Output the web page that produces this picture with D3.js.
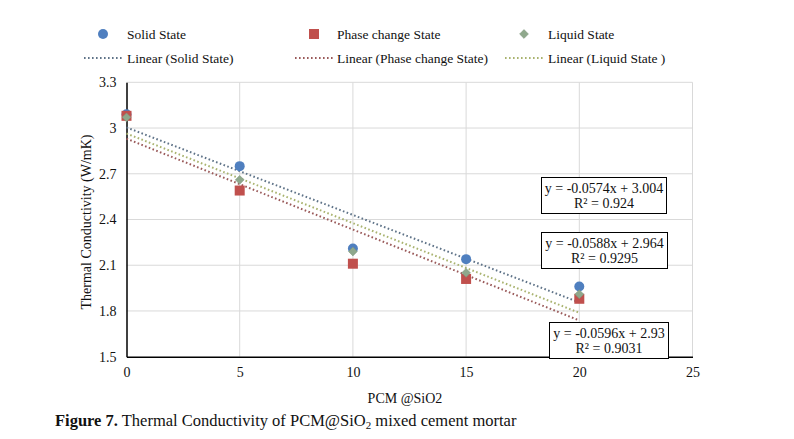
<!DOCTYPE html>
<html>
<head>
<meta charset="utf-8">
<script src="https://cdn.jsdelivr.net/npm/d3@7"></script>
<style>
body { margin: 0; background: #fff; }
svg { font-family: "Liberation Serif", "Times New Roman", serif; }
</style>
</head>
<body>
<svg id="chart" width="794" height="439"></svg>
<script>
// data
var pcm = [0, 5, 10, 15, 20];
var solid = [3.09, 2.75, 2.21, 2.14, 1.96];
var phase = [3.08, 2.59, 2.11, 2.01, 1.88];
var liquid = [3.07, 2.66, 2.19, 2.05, 1.91];

var seriesNames = ["Solid State", "Phase change State", "Liquid State"];
var trendNames = ["Linear (Solid State)", "Linear (Phase change State)", "Linear (Liquid State )"];
var slopes = [-0.0574, -0.0596, -0.0588];
var intercepts = [3.004, 2.93, 2.964];
var eqText = [
	["y = -0.0574x + 3.004", "R\u00b2 = 0.924"],
	["y = -0.0596x + 2.93", "R\u00b2 = 0.9031"],
	["y = -0.0588x + 2.964", "R\u00b2 = 0.9295"]
];

var xTicks = [0, 5, 10, 15, 20, 25];
var yTicks = [1.5, 1.8, 2.1, 2.4, 2.7, 3, 3.3];

var markColor = ["#4f7fbf", "#c0504d", "#8fa88c"];
var trendColor = ["#5f7388", "#9a5a5a", "#a9b36f"];

var svg = d3.select("#chart");

var x = d3.scaleLinear().domain([0, 25]).range([126.5, 692.5]);
var y = d3.scaleLinear().domain([1.5, 3.3]).range([356.7, 82.3]);

// grid
svg.append("g").selectAll("line.gx")
	.data(xTicks.slice(1))
	.enter().append("line")
	.attr("x1", d => x(d)).attr("x2", d => x(d))
	.attr("y1", y(1.5)).attr("y2", y(3.3))
	.attr("stroke", "#d9d9d9").attr("stroke-width", 1);

svg.append("g").selectAll("line.gy")
	.data(yTicks.slice(1))
	.enter().append("line")
	.attr("x1", x(0)).attr("x2", x(25))
	.attr("y1", d => y(d)).attr("y2", d => y(d))
	.attr("stroke", "#d9d9d9").attr("stroke-width", 1);

// axes
var xAxis = svg.append("g")
	.attr("transform", "translate(0," + y(1.5) + ")")
	.call(d3.axisBottom(x).tickValues(xTicks).tickSize(0).tickPadding(10));
var yAxis = svg.append("g")
	.attr("transform", "translate(" + x(0) + ",0)")
	.call(d3.axisLeft(y).tickValues(yTicks).tickSize(0).tickPadding(10).tickFormat(d3.format("")));
[xAxis, yAxis].forEach(function(a){
	a.select(".domain").attr("stroke", "#000").attr("stroke-width", 1.5);
	a.selectAll("text").attr("font-family", "Liberation Serif").attr("font-size", 14).attr("fill", "#111");
});

svg.append("text")
	.attr("x", 405).attr("y", 403)
	.attr("text-anchor", "middle")
	.attr("font-size", 14).attr("fill", "#111")
	.text("PCM @SiO2");

svg.append("text")
	.attr("transform", "translate(91,222) rotate(-90)")
	.attr("text-anchor", "middle")
	.attr("font-size", 14).attr("fill", "#111")
	.text("Thermal Conductivity (W/mK)");

// trend lines
var dotted = "1.6,2.4";
slopes.forEach(function(m, i){
	svg.append("line")
		.attr("x1", x(0)).attr("x2", x(20))
		.attr("y1", y(intercepts[i])).attr("y2", y(intercepts[i] + m * 20))
		.attr("stroke", trendColor[i]).attr("stroke-width", 2)
		.attr("stroke-dasharray", dotted);
});

// markers
var all = [solid, phase, liquid];
function drawMark(g, i, cx, cy){
	if (i == 0){
		g.append("circle").attr("cx", cx).attr("cy", cy).attr("r", 5).attr("fill", markColor[0]);
	} else if (i == 1){
		g.append("rect").attr("x", cx - 5).attr("y", cy - 5).attr("width", 10).attr("height", 10).attr("fill", markColor[1]);
	} else {
		g.append("path").attr("d", d3.symbol(d3.symbolDiamond2, 50)()).attr("transform", "translate(" + cx + "," + cy + ")")
			.attr("fill", markColor[2]).attr("stroke", "#7d947a").attr("stroke-width", 0.5);
	}
}
var marks = svg.append("g");
[0, 1, 2].forEach(function(i){
	all[i].forEach(function(v, j){
		drawMark(marks, i, x(pcm[j]), y(v));
	});
});

// equation boxes
var boxPos = [[541.5, 177.5, 125, 36], [549.5, 322.5, 119, 36], [541.5, 232.5, 126, 36]];
eqText.forEach(function(t, i){
	var b = boxPos[i];
	svg.append("rect")
		.attr("x", b[0]).attr("y", b[1]).attr("width", b[2]).attr("height", b[3])
		.attr("fill", "#fff").attr("stroke", "#000").attr("stroke-width", 1);
	t.forEach(function(s, k){
		svg.append("text")
			.attr("x", b[0] + b[2] / 2).attr("y", b[1] + 15.5 + k * 14.5)
			.attr("text-anchor", "middle").attr("font-size", 14).attr("fill", "#111")
			.text(s);
	});
});

// legend
var legX = [103, 314, 524];
var legText = [127, 337, 548];
seriesNames.forEach(function(n, i){
	drawMark(svg, i, legX[i], 34);
	svg.append("text").attr("x", legText[i]).attr("y", 39)
		.attr("font-size", 13.5).attr("fill", "#111").text(n);
	svg.append("line")
		.attr("x1", legX[i] - 19).attr("x2", legX[i] + 20)
		.attr("y1", 58).attr("y2", 58)
		.attr("stroke", trendColor[i]).attr("stroke-width", 2)
		.attr("stroke-dasharray", dotted);
	svg.append("text").attr("x", legText[i]).attr("y", 63)
		.attr("font-size", 13.5).attr("fill", "#111").text(trendNames[i]);
});

// caption
var cap = svg.append("text").attr("x", 55).attr("y", 426).attr("font-size", 16.5).attr("fill", "#111");
cap.append("tspan").attr("font-weight", "bold").text("Figure 7.");
cap.append("tspan").text(" Thermal Conductivity of PCM@SiO");
cap.append("tspan").attr("font-size", 11).attr("dy", 3).text("2");
cap.append("tspan").attr("dy", -3).text(" mixed cement mortar");
</script>
</body>
</html>
